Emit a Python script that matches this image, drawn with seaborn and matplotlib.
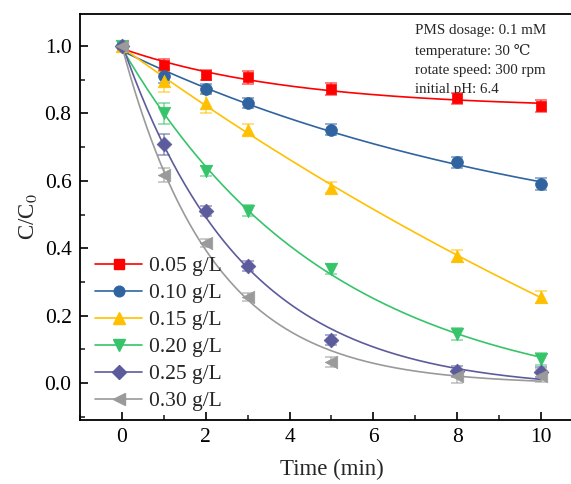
import numpy as np
import pandas as pd
import matplotlib
matplotlib.use("Agg")
import matplotlib.pyplot as plt
from matplotlib.lines import Line2D
from matplotlib.ticker import MultipleLocator
import seaborn as sns

sns.set_theme(style="ticks")
plt.rcParams['font.family'] = ['Liberation Serif', 'DejaVu Serif']
plt.rcParams['mathtext.fontset'] = 'stix'

time = [0, 1, 2, 3, 5, 8, 10]
labels = ["0.05 g/L", "0.10 g/L", "0.15 g/L", "0.20 g/L", "0.25 g/L", "0.30 g/L"]
c005 = [1.0, 0.945, 0.915, 0.907, 0.873, 0.845, 0.823]
c010 = [1.0, 0.910, 0.872, 0.830, 0.752, 0.655, 0.590]
c015 = [1.0, 0.895, 0.830, 0.752, 0.580, 0.378, 0.255]
c020 = [1.0, 0.800, 0.628, 0.512, 0.338, 0.145, 0.072]
c025 = [1.0, 0.708, 0.510, 0.348, 0.128, 0.035, 0.032]
c030 = [1.0, 0.618, 0.415, 0.255, 0.063, 0.020, 0.022]
e005 = [0.0, 0.018, 0.015, 0.020, 0.017, 0.017, 0.018]
e010 = [0.0, 0.020, 0.015, 0.015, 0.017, 0.017, 0.017]
e015 = [0.0, 0.030, 0.030, 0.017, 0.017, 0.018, 0.018]
e020 = [0.0, 0.030, 0.015, 0.015, 0.015, 0.018, 0.018]
e025 = [0.0, 0.030, 0.015, 0.015, 0.015, 0.017, 0.017]
e030 = [0.0, 0.020, 0.012, 0.012, 0.015, 0.020, 0.020]

series = [c005, c010, c015, c020, c025, c030]
errors = [e005, e010, e015, e020, e025, e030]
colors = ["#FF0000", "#2F64A0", "#FFC000", "#36C46A", "#5C5C9C", "#9A9A9A"]
markers = ["s", "o", "^", "v", "D", "<"]
msizes = [7.5, 8.5, 9, 9, 7.5, 9]


def fit_curve(t, y):
    t = np.asarray(t, float)
    y = np.asarray(y, float)
    best = None
    for k in np.linspace(0.005, 1.5, 3000):
        M = np.column_stack([np.ones_like(t), np.exp(-k * t)])
        coef, *_ = np.linalg.lstsq(M, y, rcond=None)
        r = np.sum((M @ coef - y) ** 2)
        if best is None or r < best[0]:
            best = (r, k, coef)
    _, k, coef = best
    tt = np.linspace(0, 10, 200)
    return tt, coef[0] + coef[1] * np.exp(-k * tt)


fig = plt.figure(figsize=(5.71, 4.84), dpi=100)
ax = fig.add_axes([0.140, 0.132, 0.881, 0.839])

handles = []
for lab, y, e, col, mk, ms in zip(labels, series, errors, colors, markers, msizes):
    tt, yy = fit_curve(time, y)
    sns.lineplot(x=tt, y=yy, ax=ax, color=col, lw=1.2, legend=False, zorder=2)
    ax.errorbar(time, y, yerr=e, fmt="none", ecolor=col, alpha=0.6,
                elinewidth=1.2, capsize=4, capthick=1.2, zorder=3)
    df = pd.DataFrame({"t": time, "c": y})
    sns.scatterplot(data=df, x="t", y="c", ax=ax, color=col, marker=mk,
                    s=ms ** 2, edgecolor=col, linewidth=0.5, legend=False, zorder=4)
    handles.append(Line2D([], [], color=col, lw=1.2, marker=mk, markersize=ms * 0.9,
                          markeredgecolor=col, label=lab))

ax.set_xlim(-1, 11)
ax.set_ylim(-0.11, 1.095)
ax.xaxis.set_major_locator(MultipleLocator(2))
ax.xaxis.set_minor_locator(MultipleLocator(1))
ax.yaxis.set_major_locator(MultipleLocator(0.2))
ax.yaxis.set_minor_locator(MultipleLocator(0.1))
ax.yaxis.set_major_formatter(matplotlib.ticker.FormatStrFormatter('%.1f'))
ax.tick_params(which="major", direction="in", length=6, width=1.2, labelsize=15.5,
               colors="black", pad=6)
ax.tick_params(which="minor", direction="in", length=3.5, width=1.2)
ax.tick_params(top=False, right=False, which="both")
for sp in ax.spines.values():
    sp.set_linewidth(1.3)
    sp.set_color("black")

ax.set_xlabel("Time (min)", fontsize=16.5, labelpad=8)
ax.set_ylabel("C/C$_0$", fontsize=16.5, labelpad=4)

ax.text(0.667, 0.975,
        "PMS dosage: 0.1 mM\ntemperature: 30 \u2103\nrotate speed: 300 rpm\ninitial pH: 6.4",
        transform=ax.transAxes, ha="left", va="top", fontsize=10.8, linespacing=1.6)

leg = ax.legend(handles=handles, loc="lower left", bbox_to_anchor=(0.0, -0.015),
                frameon=False, fontsize=15.5, handlelength=2.2, handletextpad=0.3,
                labelspacing=0.32, borderaxespad=0.3)

fig.savefig("out.png", dpi=100)
